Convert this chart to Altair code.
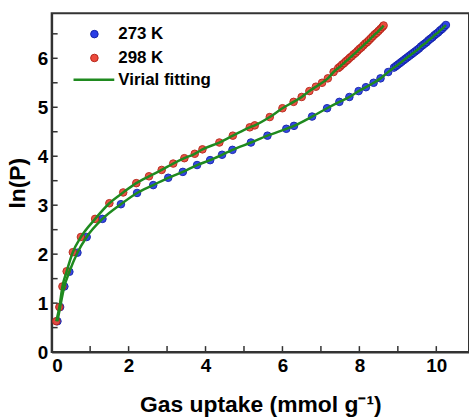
import altair as alt
import pandas as pd

# 273 K data (blue)
X273 = [0.15, 0.22, 0.33, 0.46, 0.67, 0.91, 1.32, 1.80, 2.22, 2.64, 3.03, 3.41, 3.78, 4.12, 4.43, 4.70,
        5.18, 5.61, 6.10, 6.30, 6.77, 7.16, 7.48, 7.74, 7.98, 8.17, 8.37, 8.55, 8.75,
        8.90, 8.95, 9.00, 9.05, 9.10, 9.15, 9.20, 9.25, 9.30, 9.35, 9.40, 9.45, 9.50, 9.55,
        9.60, 9.65, 9.70, 9.75, 9.80, 9.85, 9.90, 9.95, 10.00, 10.05, 10.10, 10.15, 10.20, 10.25]
Y273 = [0.63, 0.92, 1.34, 1.64, 2.03, 2.35, 2.72, 3.02, 3.25, 3.41, 3.56, 3.68, 3.82, 3.92, 4.03, 4.13,
        4.28, 4.42, 4.56, 4.62, 4.81, 4.98, 5.11, 5.21, 5.33, 5.41, 5.50, 5.59, 5.72,
        5.81, 5.84, 5.87, 5.90, 5.93, 5.96, 5.99, 6.02, 6.05, 6.08, 6.11, 6.14, 6.17, 6.20,
        6.24, 6.27, 6.30, 6.33, 6.37, 6.40, 6.43, 6.47, 6.50, 6.53, 6.57, 6.60, 6.64, 6.68]

# 298 K data (red)
X298 = [0.12, 0.20, 0.28, 0.39, 0.55, 0.76, 1.13, 1.50, 1.86, 2.20, 2.53, 2.86, 3.16, 3.45, 3.72, 3.92,
        4.36, 4.71, 5.15, 5.28, 5.67, 6.00, 6.29, 6.50, 6.70, 6.87, 7.03, 7.18, 7.33,
        7.45, 7.50, 7.55, 7.60, 7.65, 7.70, 7.75, 7.80, 7.85, 7.90, 7.95, 8.00, 8.05, 8.10,
        8.15, 8.20, 8.25, 8.30, 8.35, 8.40, 8.45, 8.50, 8.55, 8.60, 8.63]
Y298 = [0.63, 0.92, 1.34, 1.65, 2.04, 2.35, 2.72, 3.04, 3.26, 3.45, 3.59, 3.72, 3.85, 3.96, 4.05, 4.14,
        4.28, 4.42, 4.59, 4.63, 4.80, 4.98, 5.11, 5.21, 5.33, 5.42, 5.50, 5.59, 5.72,
        5.80, 5.83, 5.87, 5.90, 5.94, 5.97, 6.01, 6.04, 6.08, 6.11, 6.15, 6.19, 6.22, 6.26,
        6.30, 6.33, 6.37, 6.41, 6.45, 6.49, 6.52, 6.56, 6.60, 6.64, 6.67]

XLABELS = [0, 2, 4, 6, 8, 10]
YLABELS = [0, 1, 2, 3, 4, 5, 6]
XTICKS = [1, 2, 3, 4, 5, 6, 7, 8, 9, 10]
YTICKS = [0.5, 1, 1.5, 2, 2.5, 3, 3.5, 4, 4.5, 5, 5.5, 6, 6.5]

W, H = 420, 341
FONT = "Liberation Sans"
BLUE, BLUE_E = "#2a3ee6", "#1322a8"
RED, RED_E = "#ec4a3c", "#b42418"
GREEN = "#1f8a1f"

xs = alt.Scale(domain=[0, 10.85], nice=False, zero=False)
ys = alt.Scale(domain=[0, 6.92], nice=False, zero=False)

d273 = pd.DataFrame({"x": X273, "y": Y273})
d298 = pd.DataFrame({"x": X298, "y": Y298})

xaxis = alt.Axis(values=XLABELS, format="d", ticks=False, grid=False, labelPadding=5,
                 labelFontSize=19, labelFontWeight="bold", labelFont=FONT, labelColor="black",
                 domainColor="#333", domainWidth=2,
                 title="Gas uptake (mmol g⁻¹)", titleFontSize=23, titleFontWeight="bold",
                 titleFont=FONT, titleColor="black", titlePadding=18)
yaxis = alt.Axis(values=YLABELS, format="d", ticks=False, grid=False, labelPadding=4,
                 labelFontSize=19, labelFontWeight="bold", labelFont=FONT, labelColor="black",
                 domainColor="#333", domainWidth=2,
                 title="ln(P)", titleFontSize=23, titleFontWeight="bold",
                 titleFont=FONT, titleColor="black", titlePadding=8)

X = alt.X("x:Q", scale=xs)
Y = alt.Y("y:Q", scale=ys)


def pts(df, fill, stroke):
    return alt.Chart(df).mark_circle(size=58, color=fill, stroke=stroke, strokeWidth=1,
                                     opacity=0.95).encode(x=X, y=Y)


def fit(df):
    return alt.Chart(df).mark_line(color=GREEN, strokeWidth=2.5, interpolate="monotone").encode(x=X, y=Y)


base = alt.Chart(d273).mark_point(opacity=0).encode(
    x=alt.X("x:Q", scale=xs, axis=xaxis), y=alt.Y("y:Q", scale=ys, axis=yaxis))

xt = alt.Chart(pd.DataFrame({"x": XTICKS})).mark_rule(color="#333", strokeWidth=1.5).encode(
    x=X, y=alt.value(H), y2=alt.value(H - 6))
yt = alt.Chart(pd.DataFrame({"y": YTICKS})).mark_rule(color="#333", strokeWidth=1.5).encode(
    y=Y, x=alt.value(0), x2=alt.value(6))

# legend
LEG = pd.DataFrame({"a": [0]})
leg_b = alt.Chart(LEG).mark_circle(size=58, color=BLUE, stroke=BLUE_E, strokeWidth=1, opacity=1).encode(
    x=alt.value(43), y=alt.value(21))
leg_r = alt.Chart(LEG).mark_circle(size=58, color=RED, stroke=RED_E, strokeWidth=1, opacity=1).encode(
    x=alt.value(43), y=alt.value(45))
leg_line = alt.Chart(LEG).mark_rule(color=GREEN, strokeWidth=2.5).encode(
    x=alt.value(22), x2=alt.value(63), y=alt.value(67))


def ltxt(t, yy):
    return alt.Chart(LEG).mark_text(align="left", baseline="middle", font=FONT, fontSize=17,
                                    fontWeight="bold", color="black", text=t).encode(
        x=alt.value(67), y=alt.value(yy))


chart = alt.layer(base, pts(d273, BLUE, BLUE_E), pts(d298, RED, RED_E), fit(d273), fit(d298),
                  xt, yt, leg_b, leg_r, leg_line,
                  ltxt("273 K", 21), ltxt("298 K", 45), ltxt("Virial fitting", 67)).properties(
    width=W, height=H,
    autosize=alt.AutoSizeParams(type="none"),
    padding={"left": 52, "top": 12, "right": 0, "bottom": 64},
    background="white",
).configure_view(stroke="#333", strokeWidth=2)

chart.save("out.html", embed_options={"renderer": "svg", "actions": False})
